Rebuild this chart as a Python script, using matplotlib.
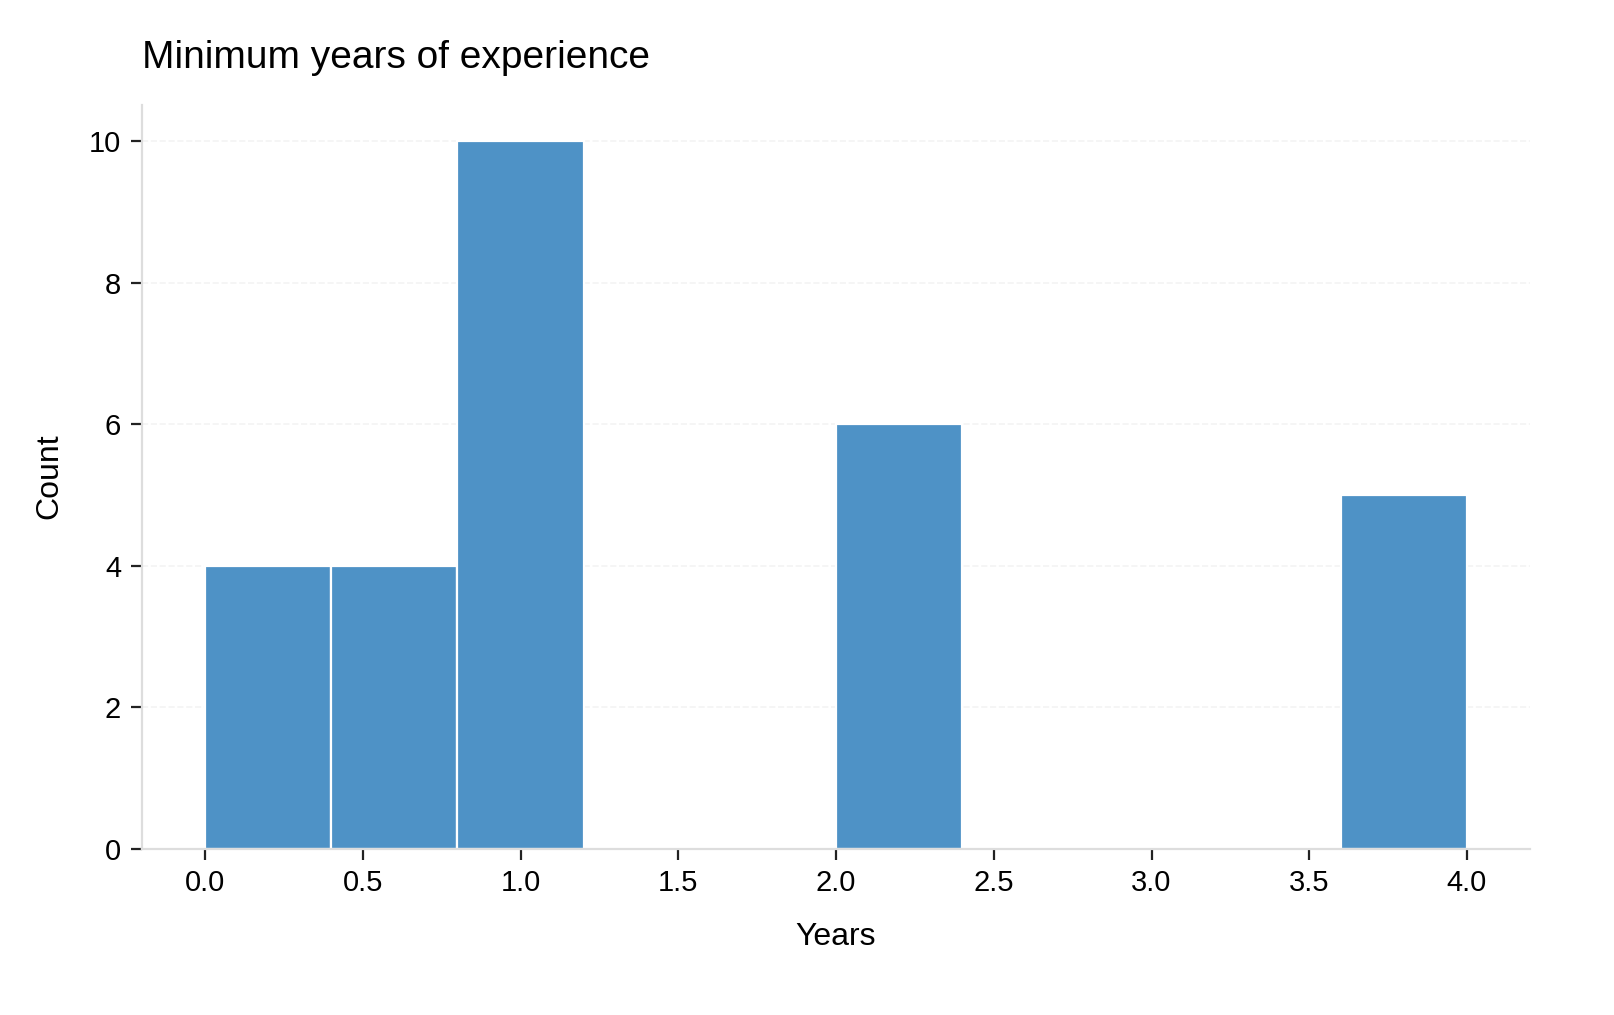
import numpy as np
import matplotlib
matplotlib.use("Agg")
import matplotlib.pyplot as plt

# years of experience values and how often each occurs
years = [0.0, 0.5, 1.0, 2.0, 4.0]
counts = [4, 4, 10, 6, 5]
bin_edges = np.linspace(0, 4, 11)

values = np.repeat(years, counts)

plt.rcParams["font.family"] = ["Liberation Sans", "DejaVu Sans"]

fig = plt.figure(figsize=(8.07, 5.075), dpi=200)
ax = fig.add_axes([0.088, 0.164, 0.86, 0.733])

ax.hist(values, bins=bin_edges, color="#4e92c6", edgecolor="white", linewidth=0.8, zorder=2)

ax.set_xlim(-0.2, 4.2)
ax.set_ylim(0, 10.52)
ax.set_xticks(np.arange(0, 4.01, 0.5))
ax.set_yticks(range(0, 11, 2))

ax.grid(axis="y", color="#f4f4f4", linewidth=0.6, linestyle="--", zorder=0)
for side in ["top", "right"]:
    ax.spines[side].set_visible(False)
for side in ["left", "bottom"]:
    ax.spines[side].set_color("#dddddd")
    ax.spines[side].set_linewidth(0.8)
ax.tick_params(axis="both", labelsize=10.5, length=4, width=0.8, color="#222222")

ax.set_xlabel("Years", fontsize=11.5, labelpad=9)
ax.set_ylabel("Count", fontsize=11.5, labelpad=9)
ax.set_title("Minimum years of experience", fontsize=14, loc="left", pad=13)

fig.savefig("out.png", dpi=200, facecolor="white")
